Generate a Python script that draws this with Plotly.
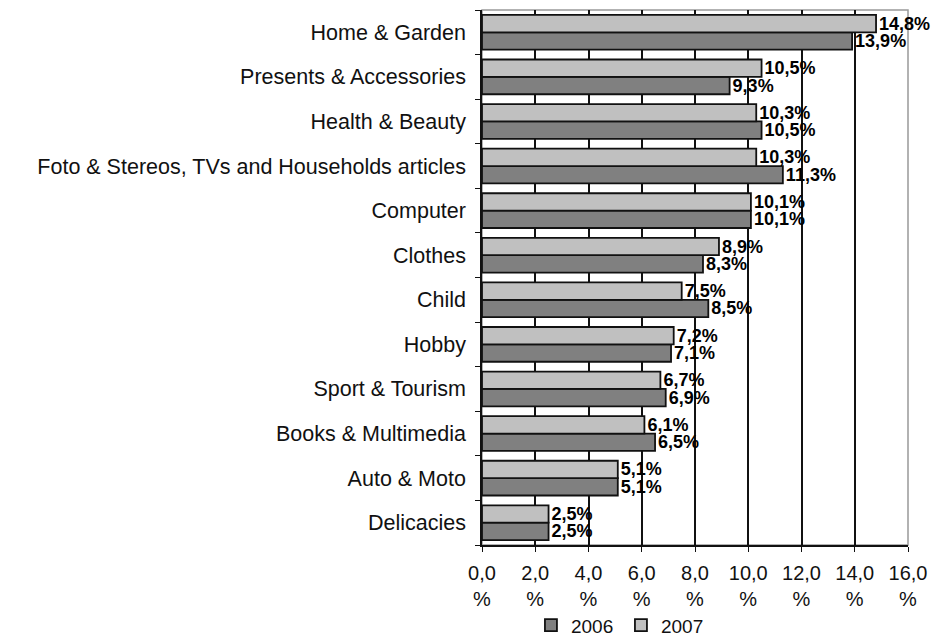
import plotly.graph_objects as go

# Categories listed bottom to top
categories = ["Delicacies", "Auto & Moto", "Books & Multimedia", "Sport & Tourism",
              "Hobby", "Child", "Clothes", "Computer",
              "Foto & Stereos, TVs and Households articles", "Health & Beauty",
              "Presents & Accessories", "Home & Garden"]
share_2006 = [2.5, 5.1, 6.5, 6.9, 7.1, 8.5, 8.3, 10.1, 11.3, 10.5, 9.3, 13.9]
share_2007 = [2.5, 5.1, 6.1, 6.7, 7.2, 7.5, 8.9, 10.1, 10.3, 10.3, 10.5, 14.8]
tick_values = [0, 2, 4, 6, 8, 10, 12, 14, 16]
tick_labels = [f"{v:.1f}".replace(".", ",") + "<br>%" for v in tick_values]


def pct(v):
    return f"{v:.1f}".replace(".", ",") + "%"


font_family = "Liberation Sans, Arial, sans-serif"

fig = go.Figure()
for name, vals, color in [("2006", share_2006, "#808080"), ("2007", share_2007, "#c0c0c0")]:
    fig.add_trace(go.Bar(
        name=name, y=categories, x=vals, orientation="h",
        marker=dict(color=color, line=dict(color="#111111", width=1.8)),
        text=[pct(v) for v in vals], textposition="outside",
        constraintext="none",
        textfont=dict(family=font_family, size=18, color="black", weight="bold"),
        cliponaxis=False,
    ))

fig.update_layout(
    width=948, height=638,
    margin=dict(l=482, r=40, t=10, b=93, autoexpand=False),
    barmode="group", bargap=0.22, bargroupgap=0,
    plot_bgcolor="white", paper_bgcolor="white",
    font=dict(family=font_family, size=20, color="#111111"),
    showlegend=True,
    legend=dict(orientation="h", xref="container", yref="container",
                x=0.655, xanchor="center", y=0.02, yanchor="middle",
                bgcolor="rgba(0,0,0,0)",
                font=dict(size=19), itemwidth=30, entrywidth=45,
                traceorder="normal", tracegroupgap=0),
    xaxis=dict(range=[0, 16], tickvals=tick_values, ticktext=tick_labels,
               showgrid=True, gridcolor="#111111", gridwidth=1.5,
               showline=True, linecolor="#111111", linewidth=1.5,
               ticks="outside", ticklen=5, tickcolor="#111111",
               ticklabelstandoff=4, automargin=False,
               zeroline=False, tickfont=dict(size=20)),
    yaxis=dict(showline=True, linecolor="#111111", linewidth=1.5,
               ticks="outside", ticklen=5, tickcolor="#111111",
               tickson="boundaries", tickfont=dict(size=21.5),
               ticklabelstandoff=10, automargin=False),
    shapes=[dict(type="rect", xref="paper", yref="paper", x0=0, x1=1, y0=0, y1=1,
                 line=dict(color="#999999", width=1.5), layer="below")],
)

fig.write_html("out.html")
